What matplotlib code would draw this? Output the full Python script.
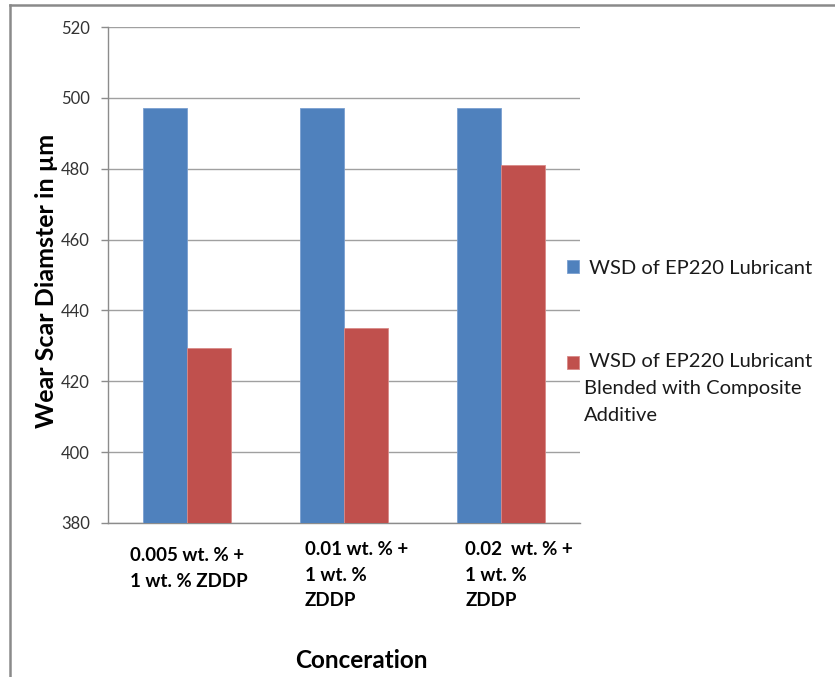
import matplotlib
matplotlib.use("Agg")
import matplotlib.pyplot as plt
import matplotlib.transforms as mtransforms
from matplotlib.lines import Line2D
import numpy as np

# Wear scar diameter (µm) for each additive concentration
categories = ["0.005 wt. % +\n1 wt. % ZDDP",
              "0.01 wt. % +\n1 wt. %\nZDDP",
              "0.02  wt. % +\n1 wt. %\nZDDP"]
base_lubricant = [497, 497, 497]
blended_lubricant = [429.5, 435, 481]
series_labels = [" WSD of EP220 Lubricant",
                 " WSD of EP220 Lubricant\nBlended with Composite\nAdditive"]
yticks = [380, 400, 420, 440, 460, 480, 500, 520]

plt.rcParams["font.family"] = ["Lato", "DejaVu Sans"]

fig = plt.figure(figsize=(8.35, 6.77), dpi=100)
ax = fig.add_axes([0.1293, 0.2275, 0.5653, 0.7326])

x = np.arange(len(categories))
w = 0.28
b1 = ax.bar(x - w / 2, base_lubricant, w, color="#4F81BD",
            edgecolor="#7A9FD0", linewidth=0.6, zorder=3,
            label=series_labels[0])
b2 = ax.bar(x + w / 2, blended_lubricant, w, color="#C0504D",
            edgecolor="#D98A88", linewidth=0.6, zorder=3,
            label=series_labels[1])

ax.set_xlim(-0.5, len(categories) - 0.5)
ax.set_ylim(380, 520)
ax.set_yticks(yticks)
ax.set_yticklabels([str(v) for v in yticks], fontsize=12, color="#333333")
ax.yaxis.grid(True, color="#A0A0A0", linewidth=1.0, zorder=0)
ax.set_axisbelow(True)

for side in ["top", "right"]:
    ax.spines[side].set_visible(False)
for side in ["left", "bottom"]:
    ax.spines[side].set_color("#8C8C8C")
    ax.spines[side].set_linewidth(1.0)
ax.tick_params(axis="y", direction="out", length=5, width=1,
               color="#8C8C8C", pad=8)

# Category labels: left-aligned wrapped blocks
ax.set_xticks(x)
ax.set_xticklabels(categories, fontsize=13.5, fontweight="bold",
                   ha="left", va="top", multialignment="left",
                   linespacing=1.62)
ax.tick_params(axis="x", length=0, pad=13)
shifts = [(-57, -6), (-39, 0), (-36, 0)]
for lbl, (dx, dy) in zip(ax.get_xticklabels(), shifts):
    off = mtransforms.ScaledTranslation(dx / 100, dy / 100, fig.dpi_scale_trans)
    lbl.set_transform(lbl.get_transform() + off)

ax.set_ylabel("Wear Scar Diamster in µm", fontsize=18, fontweight="bold")
ax.yaxis.set_label_coords(-0.106, 0.488)
ax.set_xlabel("Conceration", fontsize=17.5, fontweight="bold")
ax.xaxis.set_label_coords(0.536, -0.255)

leg = fig.legend(handles=[b1, b2], labels=series_labels,
                 loc="upper left", bbox_to_anchor=(0.679, 0.616),
                 frameon=False, fontsize=14.5, handlelength=0.6,
                 handleheight=0.6, handletextpad=0.25, labelspacing=3.8,
                 borderpad=0, borderaxespad=0)
for t in leg.get_texts():
    t.set_linespacing(1.7)
    t.set_color("#1A1A1A")
# keep the second swatch beside the first line of its wrapped label
leg.legend_handles[1].set_y(leg.legend_handles[1].get_y() + 19)

# outer chart frame
fig.add_artist(Line2D([0.012, 0.012], [0.0, 0.993], transform=fig.transFigure,
                      color="#8A8A8A", linewidth=1.8))
fig.add_artist(Line2D([0.012, 1.0], [0.993, 0.993], transform=fig.transFigure,
                      color="#8A8A8A", linewidth=1.8))

fig.savefig("out.png", dpi=100)
